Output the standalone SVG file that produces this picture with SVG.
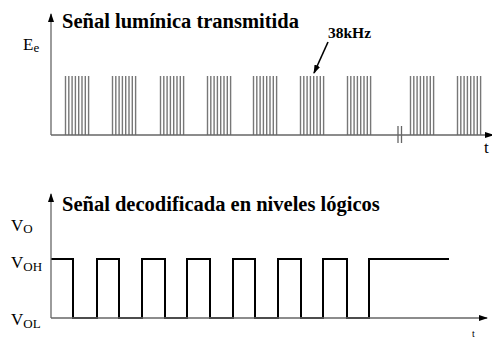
<svg xmlns="http://www.w3.org/2000/svg" width="492" height="338" viewBox="0 0 492 338">
<style>
.title{font-family:"Liberation Serif",serif;font-weight:bold;font-size:20.5px;fill:#000}
.lbl{font-family:"Liberation Serif",serif;font-size:17px;fill:#000}
.sub{font-size:13px}
.axis{stroke:#666;stroke-width:1.3;fill:none}
.burst{stroke:#777;stroke-width:1.4}
.wave{stroke:#000;stroke-width:2;fill:none}
</style>
<defs>
<marker id="ah" markerWidth="9" markerHeight="6" refX="8" refY="3" orient="auto" markerUnits="userSpaceOnUse">
<path d="M0,0 L9,3 L0,6 Z" fill="#000"/>
</marker>
<g id="b">
<line class="burst" x1="0.5" y1="76" x2="0.5" y2="135"/>
<line class="burst" x1="3.8" y1="76" x2="3.8" y2="135"/>
<line class="burst" x1="7.1" y1="76" x2="7.1" y2="135"/>
<line class="burst" x1="10.4" y1="76" x2="10.4" y2="135"/>
<line class="burst" x1="13.7" y1="76" x2="13.7" y2="135"/>
<line class="burst" x1="17" y1="76" x2="17" y2="135"/>
<line class="burst" x1="20.3" y1="76" x2="20.3" y2="135"/>
<line class="burst" x1="23.6" y1="76" x2="23.6" y2="135"/>
</g>
</defs>
<rect width="492" height="338" fill="#fff"/>
<g id="top-chart">
<text class="title" x="62" y="28">Señal lumínica transmitida</text>
<text class="lbl" x="23" y="50">E<tspan class="sub" dy="2">e</tspan></text>
<g id="bursts">
<use href="#b" x="65"/>
<use href="#b" x="112"/>
<use href="#b" x="160"/>
<use href="#b" x="207"/>
<use href="#b" x="253"/>
<use href="#b" x="300"/>
<use href="#b" x="347"/>
<use href="#b" x="410"/>
<use href="#b" x="457"/>
</g>
<text x="328" y="38" style="font-family:'Liberation Serif',serif;font-weight:bold;font-size:15.5px">38kHz</text>
<text class="lbl" x="484" y="153">t</text>
</g>
<g id="bottom-chart">
<text class="title" x="62" y="211">Señal decodificada en niveles lógicos</text>
<text class="lbl" x="11" y="231">V<tspan class="sub" dy="2">O</tspan></text>
<text class="lbl" x="11" y="268">V<tspan class="sub" dy="3">OH</tspan></text>
<text class="lbl" x="11" y="325">V<tspan class="sub" dy="3">OL</tspan></text>
<path class="wave" d="M51,259 H73 V318 H97 V259 H119 V318 H142 V259 H165 V318 H187 V259 H210 V318 H233 V259 H255 V318 H278 V259 H301 V318 H323 V259 H347 V318 H369 V259 H449"/>
<text x="472" y="337" style="font-family:'Liberation Serif',serif;font-size:10px">t</text>
</g>
<g id="connectors">
<line class="axis" x1="51" y1="135" x2="51" y2="14" marker-end="url(#ah)"/>
<line class="axis" x1="51" y1="135" x2="493" y2="135" marker-end="url(#ah)"/>
<line class="axis" x1="398" y1="126" x2="398" y2="143"/>
<line class="axis" x1="401.5" y1="126" x2="401.5" y2="143"/>
<line class="axis" x1="51" y1="318" x2="51" y2="194" marker-end="url(#ah)"/>
<line class="axis" x1="51" y1="318" x2="487" y2="318" marker-end="url(#ah)"/>
<line x1="328" y1="42" x2="314" y2="73" stroke="#000" stroke-width="1.6" marker-end="url(#ah)"/>
</g>
</svg>
